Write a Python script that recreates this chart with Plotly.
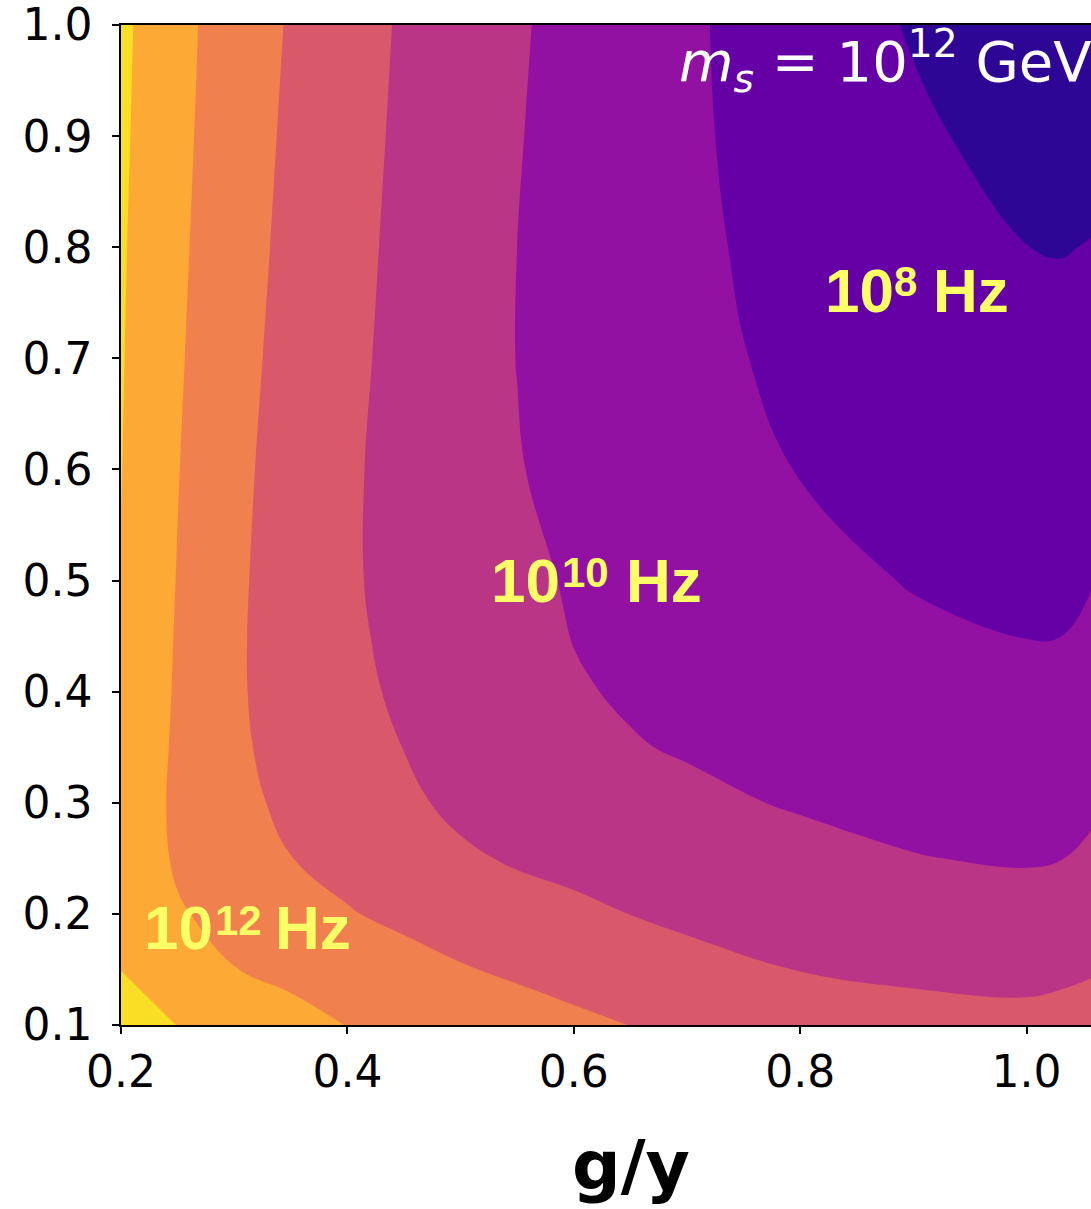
import plotly.graph_objects as go

# grid of g/y values (x) and y-axis values
g_over_y = [0.20, 0.25, 0.30, 0.35, 0.40, 0.45, 0.50, 0.55, 0.60, 0.65, 0.70,
            0.80, 0.90, 1.00, 1.03, 1.06]
y_vals = [0.10, 0.15, 0.20, 0.25, 0.30, 0.35, 0.40, 0.45, 0.50, 0.60, 0.70,
          0.80, 0.90, 1.00]

# frequency level (contour band index, one row per y value)
freq_level = [
    [7.33, 6.99, 6.65, 6.31, 5.98, 5.783, 5.58, 5.383, 5.18, 4.99, 4.82, 4.45, 4.29, 4.22, 4.28, 4.38],
    [6.99, 6.51, 6.02, 5.77, 5.54, 5.30, 5.06, 4.866, 4.68, 4.50, 4.32, 3.98, 3.85, 3.78, 3.84, 3.94],
    [6.72, 6.08, 5.731, 5.394, 5.056, 4.816, 4.594, 4.372, 4.15, 3.992, 3.80, 3.62, 3.44, 3.34, 3.42, 3.56],
    [6.66, 5.89, 5.46, 5.013, 4.734, 4.457, 4.14, 3.90, 3.80, 3.671, 3.55, 3.28, 3.025, 2.93, 2.98, 3.17],
    [6.68, 5.83, 5.26, 4.80, 4.513, 4.174, 3.80, 3.74, 3.57, 3.39, 3.18, 2.92, 2.80, 2.705, 2.75, 2.88],
    [6.74, 5.863, 5.129, 4.741, 4.359, 3.986, 3.765, 3.544, 3.323, 3.05, 2.93, 2.775, 2.585, 2.464, 2.505, 2.655],
    [6.82, 5.90, 5.103, 4.67, 4.17, 3.89, 3.63, 3.372, 3.07, 2.916, 2.80, 2.63, 2.37, 2.22, 2.26, 2.43],
    [6.90, 5.928, 5.108, 4.637, 4.127, 3.818, 3.535, 3.253, 2.98, 2.85, 2.70, 2.45, 2.153, 1.985, 1.995, 2.25],
    [6.97, 5.965, 5.132, 4.634, 4.092, 3.777, 3.475, 3.173, 2.928, 2.761, 2.594, 2.28, 1.95, 1.851, 1.862, 1.994],
    [7.02, 6.033, 5.188, 4.676, 4.11, 3.746, 3.36, 3.038, 2.78, 2.60, 2.39, 1.97, 1.766, 1.573, 1.565, 1.674],
    [7.06, 6.108, 5.259, 4.743, 4.179, 3.77, 3.33, 2.989, 2.736, 2.483, 2.17, 1.86, 1.561, 1.295, 1.268, 1.355],
    [7.10, 6.178, 5.334, 4.806, 4.24, 3.81, 3.37, 2.999, 2.717, 2.434, 2.152, 1.733, 1.368, 1.005, 0.97, 1.03],
    [7.15, 6.247, 5.40, 4.867, 4.30, 3.856, 3.447, 3.038, 2.727, 2.426, 2.125, 1.623, 1.146, 0.70, 0.65, 0.75],
    [7.19, 6.31, 5.457, 4.932, 4.363, 3.903, 3.494, 3.086, 2.751, 2.435, 2.12, 1.527, 0.93, 0.60, 0.55, 0.62],
]

band_colors = ["#2e0695", "#6500a7", "#9311a2", "#bb3587",
               "#d9596a", "#f0804e", "#fca935", "#f8de24"]

x_ticks = [0.2, 0.4, 0.6, 0.8, 1.0]
y_ticks = [0.1, 0.2, 0.3, 0.4, 0.5, 0.6, 0.7, 0.8, 0.9, 1.0]

# frequency labels: mantissa, exponent, unit
label_base = ["10", "10", "10"]
label_exp = ["8", "10", "12"]
label_unit = ["Hz", "Hz", "Hz"]
# (base x, exp x, unit x, base/unit y, exp y) in data coordinates
label_pos = [
    (0.8522, 0.8934, 0.9509, 0.7615, 0.769),
    (0.5576, 0.6099, 0.6799, 0.5005, 0.5073),
    (0.2506, 0.3036, 0.3692, 0.1878, 0.1945),
]

colorscale = [[i / (len(band_colors) - 1), c] for i, c in enumerate(band_colors)]

fig = go.Figure()
fig.add_trace(go.Contour(
    x=g_over_y, y=y_vals, z=freq_level,
    autocontour=False,
    contours=dict(start=1, end=7, size=1, coloring="fill", showlines=False),
    colorscale=colorscale, showscale=False,
    line=dict(width=0, smoothing=1.2),
    hoverinfo="skip",
))

lab_font = "Liberation Sans, Arial, Helvetica"
annotations = []
for b, e, u, (bx, ex, ux, by, ey) in zip(label_base, label_exp, label_unit, label_pos):
    annotations.append(dict(x=bx, y=by, xref="x", yref="y", text="<b>" + b + "</b>",
                            showarrow=False, xanchor="center", yanchor="middle",
                            font=dict(family=lab_font, size=62, color="#ffff66")))
    annotations.append(dict(x=ex, y=ey, xref="x", yref="y", text="<b>" + e + "</b>",
                            showarrow=False, xanchor="center", yanchor="middle",
                            font=dict(family=lab_font, size=42, color="#ffff66")))
    annotations.append(dict(x=ux, y=by, xref="x", yref="y", text="<b>" + u + "</b>",
                            showarrow=False, xanchor="center", yanchor="middle",
                            font=dict(family=lab_font, size=62, color="#ffff66")))

annotations.append(dict(
    x=(677 - 121) / 970, y=0.964, xref="paper", yref="paper",
    text="<i>m</i><sub><i>s</i></sub> = 10<sup>12</sup> GeV", showarrow=False,
    font=dict(family="DejaVu Sans", size=56, color="white"),
    xanchor="left", yanchor="middle"))

annotations.append(dict(
    x=(631 - 121) / 970, y=-0.1405, xref="paper", yref="paper",
    text="<b>g/y</b>", showarrow=False,
    font=dict(family="DejaVu Sans", size=68, color="black"),
    xanchor="center", yanchor="middle"))

fig.update_layout(
    width=1091, height=1209,
    margin=dict(l=121, r=0, t=25, b=184),
    paper_bgcolor="white", plot_bgcolor="white",
    showlegend=False,
    annotations=annotations,
    xaxis=dict(range=[0.2, 0.2 + 970 / 1132], tickvals=x_ticks,
               ticktext=["%.1f" % v for v in x_ticks],
               ticks="outside", ticklen=7, tickwidth=1.5, tickcolor="black",
               showline=True, linecolor="black", linewidth=1.5, mirror=True,
               showgrid=False, zeroline=False, ticklabelstandoff=0,
               ticklabeloverflow="allow",
               tickfont=dict(family="DejaVu Sans", size=44, color="black")),
    yaxis=dict(range=[0.1, 1.0], tickvals=y_ticks,
               ticktext=["%.1f" % v for v in y_ticks],
               ticks="outside", ticklen=7, tickwidth=1.5, tickcolor="black",
               showline=True, linecolor="black", linewidth=1.5,
               showgrid=False, zeroline=False, ticklabelstandoff=11,
               ticklabeloverflow="allow",
               tickfont=dict(family="DejaVu Sans", size=44, color="black")),
)

fig.write_html("out.html",
               config={"displayModeBar": False},
               post_script="document.body.style.margin='0';"
                           "document.body.style.overflow='hidden';")
